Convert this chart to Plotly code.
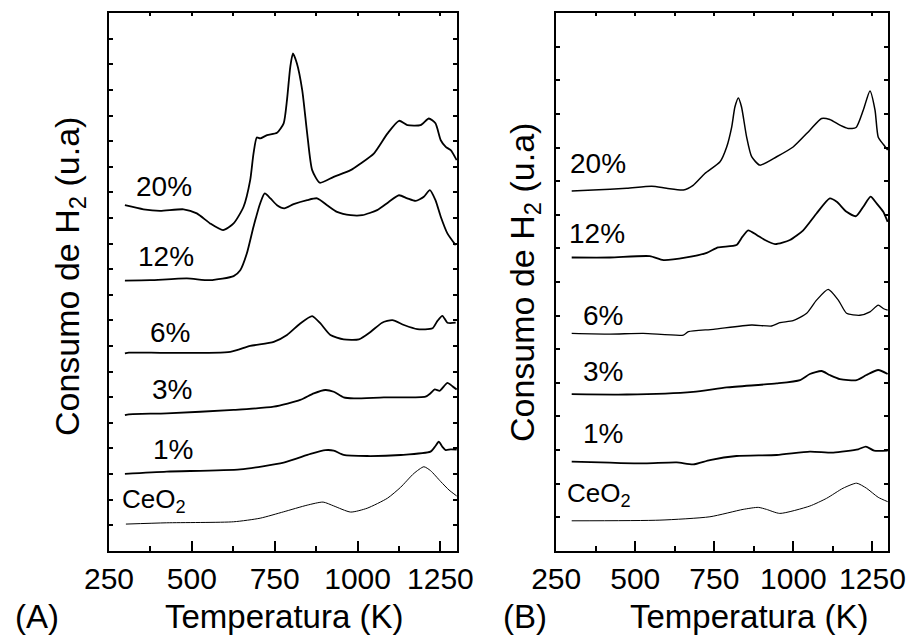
import plotly.graph_objects as go

# ---- TPR profiles, panel (A) ----
tA_20 = [298, 354, 404, 475, 515, 555, 594, 626, 656, 676, 686, 696, 706, 727, 757, 777, 787, 797, 805, 817,
         833, 848, 863, 886, 928, 979, 1009, 1049, 1090, 1125, 1150, 1190, 1215, 1235, 1251, 1266, 1281, 1299]
A_20 = [13.50, 13.34, 13.28, 13.34, 13.18, 12.79, 12.53, 12.79, 13.44, 14.48, 15.52, 16.15, 16.11, 16.24, 16.33,
        16.70, 17.61, 18.91, 19.43, 19.04, 18.00, 16.30, 14.87, 14.38, 14.61, 14.87, 15.13, 15.52, 16.30, 16.80,
        16.63, 16.63, 16.89, 16.70, 16.04, 15.78, 15.65, 15.26]

tA_12 = [298, 374, 485, 555, 626, 646, 666, 686, 706, 720, 737, 757, 779, 807, 848, 878, 908, 938, 979, 1014,
         1059, 1094, 1125, 1150, 1175, 1200, 1218, 1235, 1251, 1271, 1296]
A_12 = [10.55, 10.57, 10.64, 10.57, 10.73, 10.96, 11.62, 12.66, 13.57, 13.96, 13.77, 13.50, 13.38, 13.54, 13.70,
        13.77, 13.50, 13.24, 13.11, 13.11, 13.31, 13.63, 13.89, 13.77, 13.67, 13.83, 14.09, 13.70, 13.05, 12.40, 11.94]

tA_6 = [298, 310, 424, 616, 676, 747, 787, 827, 863, 888, 918, 958, 1004, 1039, 1074, 1105, 1140, 1180, 1226, 1241,
        1256, 1271, 1296]
A_6 = [7.71, 7.74, 7.73, 7.77, 8.00, 8.16, 8.43, 8.88, 9.17, 8.88, 8.43, 8.26, 8.26, 8.55, 8.91, 9.01, 8.82, 8.66,
       8.69, 8.98, 9.18, 8.91, 8.91]

tA_3 = [298, 310, 424, 626, 747, 827, 868, 903, 928, 958, 989, 1079, 1205, 1220, 1233, 1248, 1261, 1271, 1286, 1299]
A_3 = [5.30, 5.33, 5.37, 5.50, 5.63, 5.89, 6.15, 6.28, 6.21, 5.99, 5.95, 5.99, 6.02, 6.15, 6.30, 6.25, 6.43, 6.56,
       6.43, 6.30]

tA_1 = [298, 424, 646, 777, 858, 903, 928, 958, 1029, 1130, 1220, 1235, 1245, 1256, 1266, 1281, 1299]
A_1 = [3.00, 3.09, 3.18, 3.44, 3.78, 3.93, 3.91, 3.74, 3.70, 3.74, 3.87, 4.09, 4.26, 4.06, 3.93, 3.96, 3.95]

tA_ce = [301, 424, 626, 706, 777, 848, 896, 928, 979, 1029, 1090, 1130, 1170, 1200, 1220, 1251, 1276, 1299]
A_ce = [1.04, 1.09, 1.13, 1.27, 1.52, 1.78, 1.90, 1.75, 1.51, 1.66, 2.05, 2.48, 3.02, 3.28, 3.13, 2.70, 2.37, 2.14]

# ---- TPR profiles, panel (B) ----
tB_20 = [299, 367, 473, 552, 599, 652, 683, 720, 768, 789, 805, 815, 826, 836, 852, 868, 894, 947, 999, 1052,
         1089, 1115, 1147, 1173, 1198, 1221, 1242, 1258, 1268, 1284, 1298]
B_20 = [10.71, 10.74, 10.79, 10.85, 10.79, 10.74, 10.88, 11.23, 11.58, 12.02, 12.62, 13.21, 13.48, 13.21, 12.32,
        11.73, 11.48, 11.73, 12.02, 12.52, 12.87, 12.84, 12.67, 12.57, 12.60, 13.12, 13.69, 13.12, 12.32, 12.10, 11.93]

tB_12 = [299, 420, 546, 589, 662, 726, 762, 820, 839, 857, 884, 910, 942, 989, 1031, 1073, 1115, 1137, 1168, 1198,
         1221, 1244, 1263, 1284, 1298]
B_12 = [8.73, 8.73, 8.77, 8.65, 8.73, 8.87, 9.03, 9.10, 9.35, 9.54, 9.40, 9.25, 9.13, 9.25, 9.54, 10.04, 10.49,
        10.39, 10.09, 9.96, 10.24, 10.54, 10.34, 10.09, 9.79]

tB_6 = [299, 420, 525, 652, 668, 747, 868, 931, 957, 999, 1042, 1073, 1110, 1142, 1168, 1210, 1242, 1268, 1284, 1298]
B_6 = [6.47, 6.45, 6.47, 6.42, 6.52, 6.59, 6.72, 6.69, 6.79, 6.85, 7.07, 7.46, 7.78, 7.46, 7.07, 7.01, 7.11, 7.31,
       7.21, 7.16]

tB_3 = [299, 473, 683, 789, 947, 1021, 1052, 1089, 1115, 1147, 1200, 1231, 1268, 1298]
B_3 = [4.66, 4.65, 4.73, 4.86, 4.98, 5.08, 5.26, 5.35, 5.23, 5.11, 5.08, 5.23, 5.38, 5.26]

tB_1 = [299, 420, 531, 631, 683, 736, 820, 947, 1052, 1126, 1205, 1229, 1255, 1298]
B_1 = [2.65, 2.62, 2.60, 2.63, 2.57, 2.70, 2.82, 2.85, 2.95, 2.92, 3.02, 3.10, 2.98, 2.98]

tB_ce = [299, 578, 736, 841, 889, 915, 957, 1052, 1105, 1157, 1200, 1231, 1268, 1298]
B_ce = [0.89, 0.91, 1.01, 1.23, 1.29, 1.23, 1.11, 1.33, 1.56, 1.86, 2.01, 1.86, 1.59, 1.46]

# curve labels: (text, T, y)
labels_A = [("20%", 416, 14.22), ("12%", 422, 11.48), ("6%", 434, 8.54),
            ("3%", 440, 6.28), ("1%", 443, 3.97)]
labels_B = [("20%", 381, 11.54), ("12%", 378, 9.43), ("6%", 398, 7.01),
            ("3%", 398, 5.33), ("1%", 398, 3.49)]
ceo2_A = (283, 1.98)
ceo2_B = (278, 1.66)

x_ticks = [250, 500, 750, 1000, 1250]

W, H = 911, 637
FONT = "Arial, Liberation Sans, sans-serif"


def px(x):
    return x / W


def py(y):
    return 1 - y / H


fig = go.Figure()

panel_A = [(tA_20, A_20, 1.8), (tA_12, A_12, 1.8), (tA_6, A_6, 1.8),
           (tA_3, A_3, 1.8), (tA_1, A_1, 1.8), (tA_ce, A_ce, 1.0)]
panel_B = [(tB_20, B_20, 1.5), (tB_12, B_12, 1.8), (tB_6, B_6, 1.3),
           (tB_3, B_3, 1.8), (tB_1, B_1, 1.8), (tB_ce, B_ce, 1.0)]

for t, s, w in panel_A:
    fig.add_trace(go.Scatter(x=t, y=s, mode="lines", xaxis="x", yaxis="y",
                             line=dict(color="black", width=w, shape="spline", smoothing=0.6),
                             showlegend=False, hoverinfo="skip"))
for t, s, w in panel_B:
    fig.add_trace(go.Scatter(x=t, y=s, mode="lines", xaxis="x2", yaxis="y2",
                             line=dict(color="black", width=w, shape="spline", smoothing=0.6),
                             showlegend=False, hoverinfo="skip"))

dom_y = [py(550.7), py(13.3)]
dom_A = [px(109), px(457)]
dom_B = [px(556.2), px(888.3)]

xbase = dict(range=[250, 1300], showline=True, linecolor="black", linewidth=2, mirror=True,
             ticks="inside", ticklen=10, tickwidth=1.5, tickcolor="black",
             tickmode="array", tickvals=x_ticks, ticktext=[str(v) for v in x_ticks],
             minor=dict(ticks="inside", ticklen=5, tickwidth=1.5, tickcolor="black",
                        tickmode="array", tickvals=[375, 625, 875, 1125]),
             showgrid=False, zeroline=False, automargin=False,
             tickfont=dict(family=FONT, size=30, color="black"))
xtop = dict(range=[250, 1300], side="top", showline=False, ticks="inside", ticklen=3,
            tickwidth=1.5, tickcolor="black", tickmode="linear", tick0=250, dtick=125,
            showticklabels=False, showgrid=False, zeroline=False, automargin=False)
ybase = dict(showline=True, linecolor="black", linewidth=2, mirror="ticks",
             ticks="inside", ticklen=4, tickwidth=1.5, tickcolor="black",
             tickmode="linear", tick0=0, dtick=1, showticklabels=False,
             showgrid=False, zeroline=False, automargin=False, domain=dom_y)

fig.update_layout(
    width=W, height=H, margin=dict(l=0, r=0, t=0, b=0, autoexpand=False),
    paper_bgcolor="white", plot_bgcolor="white",
    xaxis=dict(xbase, domain=dom_A, anchor="y"),
    xaxis2=dict(xbase, domain=dom_B, anchor="y2"),
    xaxis3=dict(xtop, overlaying="x", anchor="y"),
    xaxis4=dict(xtop, overlaying="x2", anchor="y2"),
    yaxis=dict(ybase, range=[0, 21], anchor="x"),
    yaxis2=dict(ybase, range=[0, 16], anchor="x2"),
)

# empty traces so the top-tick axes are rendered
fig.add_trace(go.Scatter(x=[None], y=[None], xaxis="x3", yaxis="y", showlegend=False))
fig.add_trace(go.Scatter(x=[None], y=[None], xaxis="x4", yaxis="y2", showlegend=False))

ann = []
lab_font = dict(family=FONT, size=28, color="black")
for txt, x, y in labels_A:
    ann.append(dict(text=txt, x=x, y=y, xref="x", yref="y", showarrow=False, font=lab_font,
                    xanchor="center", yanchor="middle"))
for txt, x, y in labels_B:
    ann.append(dict(text=txt, x=x, y=y, xref="x2", yref="y2", showarrow=False, font=lab_font,
                    xanchor="center", yanchor="middle"))
ann.append(dict(text="CeO<sub>2</sub>", x=ceo2_A[0], y=ceo2_A[1], xref="x", yref="y",
                xanchor="left", yanchor="middle", showarrow=False,
                font=dict(family=FONT, size=26, color="black")))
ann.append(dict(text="CeO<sub>2</sub>", x=ceo2_B[0], y=ceo2_B[1], xref="x2", yref="y2",
                xanchor="left", yanchor="middle", showarrow=False,
                font=dict(family=FONT, size=26, color="black")))

ytitle = "Consumo de H<sub>2</sub> (u.a)"
ytitle_font = dict(family=FONT, size=34, color="black")
for xc, yc in [(69, 277), (524, 283)]:
    ann.append(dict(text=ytitle, x=px(xc), y=py(yc), xref="paper", yref="paper", textangle=-90,
                    xanchor="center", yanchor="middle", showarrow=False, font=ytitle_font))

title_font = dict(family=FONT, size=33, color="black")
for txt, xc in [("Temperatura (K)", 284), ("Temperatura (K)", 749), ("(A)", 37), ("(B)", 525)]:
    ann.append(dict(text=txt, x=px(xc), y=0, xref="paper", yref="paper",
                    xanchor="center", yanchor="bottom", showarrow=False, font=title_font))
fig.update_layout(annotations=ann)

fig.write_html("out.html")
